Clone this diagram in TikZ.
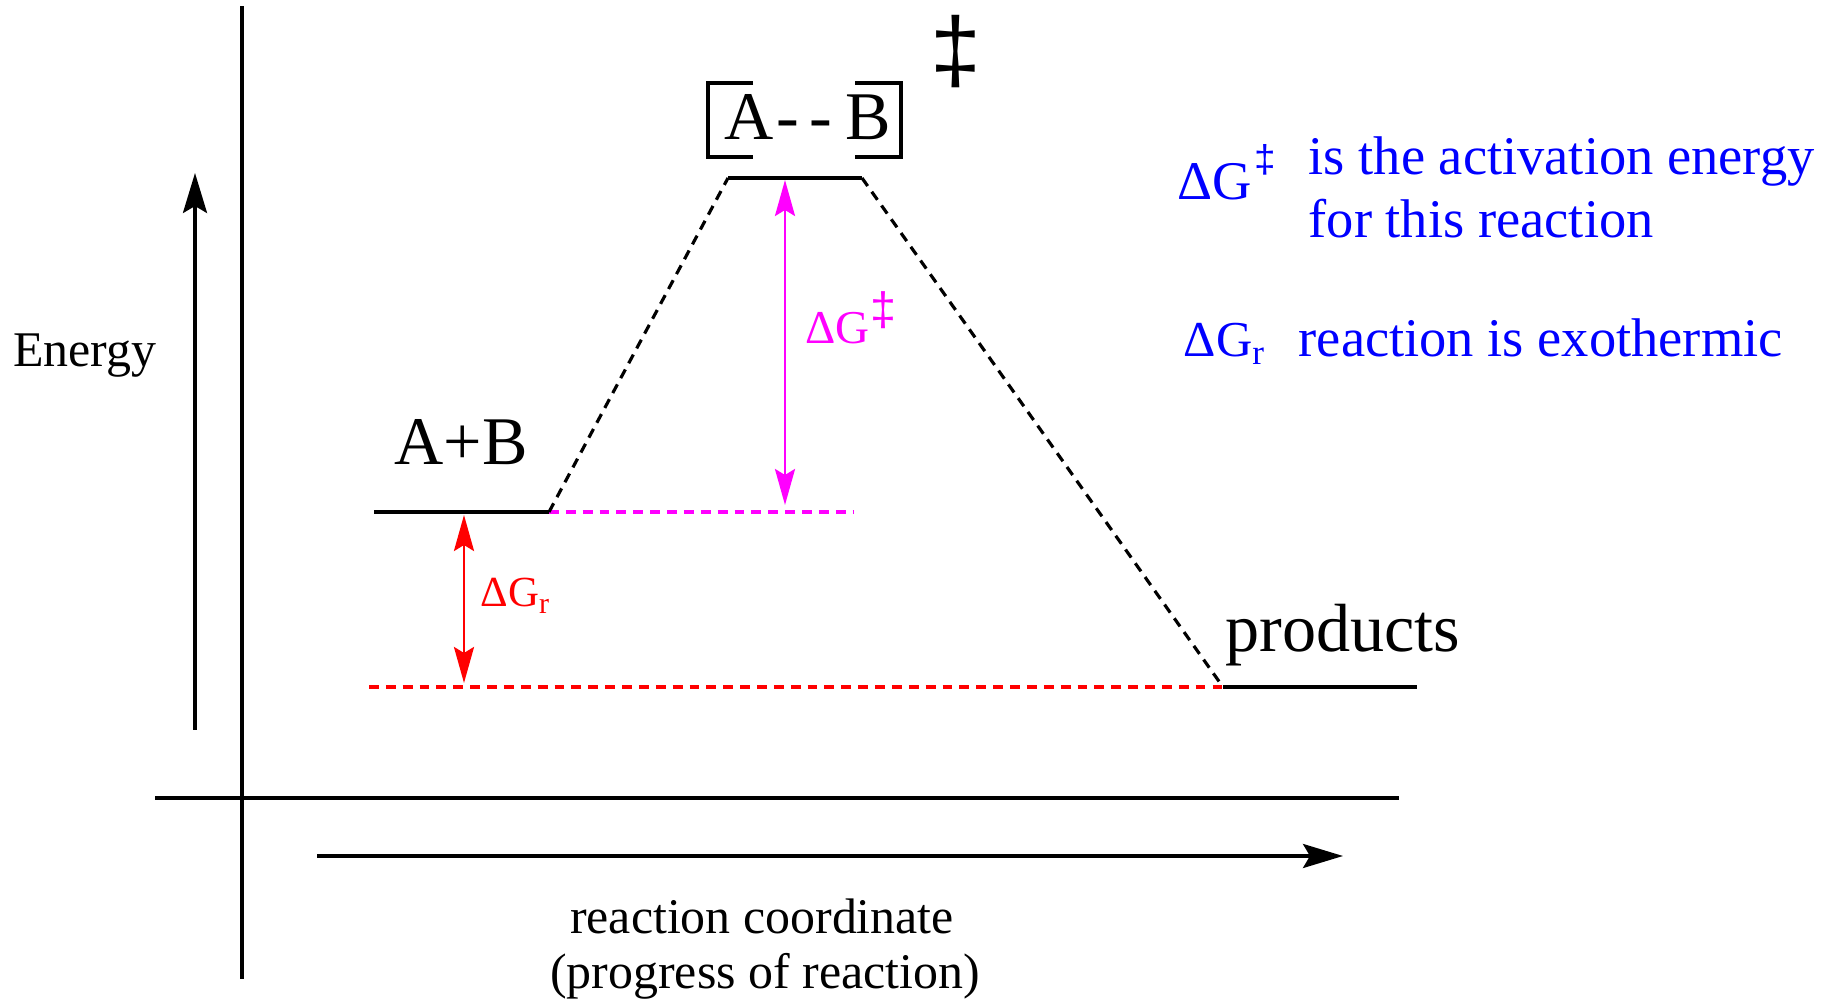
\documentclass[tikz,border=0pt]{standalone}
\usepackage{fontspec}
\setmainfont{Liberation Serif}
\newfontfamily\ddfont{Liberation Sans}
\usetikzlibrary{calc, positioning}
\usetikzlibrary{arrows.meta}
\definecolor{actmag}{RGB}{255,0,255}
\definecolor{rxred}{RGB}{255,0,0}
\definecolor{noteblue}{RGB}{0,0,255}
\newcommand{\ddg}[2]{\raisebox{#2}{\fontsize{#1}{#1}\selectfont\ddfont ‡}}

\tikzset{
  axisline/.style={line width=1pt, >={Stealth[length=4mm, width=2.4mm, inset=0.7mm]}},
  stage/.style={line width=0.9pt},
  slope/.style={line width=0.9pt, dash pattern=on 2.8pt off 2pt},
  span/.style={line width=0.8pt, <->, >={Stealth[length=3.6mm, width=2mm, inset=0.6mm]}},
  tsbox/.style={line width=1.1pt},
  lbl/.style={inner sep=0pt, anchor=base},
  axtext/.style={font=\fontsize{14.2}{17}\selectfont},
  bigtext/.style={font=\fontsize{19.4}{23}\selectfont},
  notetext/.style={font=\fontsize{15.5}{19}\selectfont, text=noteblue},
}

\begin{document}
\begin{tikzpicture}
\useasboundingbox (0,0) rectangle (18.32,10.04);
\def\yr{4.92}
\def\yts{8.26}
\def\yp{3.17}
\coordinate (Ybot) at (2.42,0.25);
\coordinate (Ytop) at (2.42,9.98);
\coordinate (Xl) at (1.55,2.06);
\coordinate (Xr) at (13.99,2.06);
\coordinate (E0) at (1.95,2.74);
\coordinate (E1) at (1.95,8.31);
\coordinate (R0) at (3.17,1.48);
\coordinate (R1) at (13.43,1.48);
\coordinate (RL) at (3.74,\yr);
\coordinate (RR) at (5.49,\yr);
\coordinate (TL) at (7.28,\yts);
\coordinate (TR) at (8.62,\yts);
\coordinate (PL) at (12.23,\yp);
\coordinate (PR) at (14.17,\yp);
\coordinate (Mend) at (8.53,\yr);
\coordinate (Rstart) at (3.69,\yp);
\coordinate (GaTop) at (7.85,8.24);
\coordinate (GaBot) at (7.85,4.99);
\coordinate (GrTop) at (4.64,4.89);
\coordinate (GrBot) at (4.64,3.21);

\draw[axisline] (Ybot) -- (Ytop);
\draw[axisline] (Xl) -- (Xr);
\draw[axisline, ->] (E0) -- (E1);
\draw[axisline, ->] (R0) -- (R1);

\draw[stage] (RL) -- (RR);
\draw[stage] (TL) -- (TR);
\draw[stage] (PL) -- (PR);
\draw[slope, actmag] (RR) -- (Mend);
\draw[slope, rxred] (Rstart) -- (PL);
\draw[slope] (RR) -- (TL);
\draw[slope] (TR) -- (PL);

\draw[span, actmag] (GaTop) -- (GaBot);
\draw[span, rxred] (GrTop) -- (GrBot);

\draw[tsbox] (7.53,9.21) -- (7.08,9.21) -- (7.08,8.47) -- (7.53,8.47);
\draw[tsbox] (8.55,9.21) -- (9.01,9.21) -- (9.01,8.47) -- (8.55,8.47);

\node[lbl, axtext] (energy) at (0.85,6.37) {Energy};
\node[lbl, axtext] (rc) at (7.62,0.71) {reaction coordinate};
\node[lbl, axtext] (rcb) at (7.65,0.15) {(progress of reaction)};
\node[lbl, bigtext] (reac) at (4.61,5.39) {A+B};
\node[lbl, bigtext] (prod) at (13.43,3.52) {products};
\node[lbl, bigtext] (ts) at (8.08,8.64) {A\kern.04em-\kern.15em-\kern.19em B};
\node[inner sep=0pt, font=\fontsize{26}{26}\selectfont\ddfont] (tsmark) at (9.56,9.52) {‡};

\node[lbl, anchor=base west, text=actmag, font=\fontsize{13.4}{16}\selectfont] (ga) at (8.05,6.60) {ΔG\ddg{13.3}{5.4pt}};
\node[lbl, anchor=base west, text=rxred, font=\fontsize{12.2}{15}\selectfont] (gr) at (4.80,3.97) {ΔG\textsubscript{r}};

\node[lbl, anchor=base west, notetext] (nga) at (11.77,8.04) {ΔG\kern.05em\ddg{11}{7.9pt}};
\node[lbl, anchor=base west, notetext] (note1) at (13.08,8.29) {is the activation energy};
\node[lbl, anchor=base west, notetext] (note1b) at (13.08,7.66) {for this reaction};
\node[lbl, anchor=base west, notetext, font=\fontsize{14.3}{17}\selectfont] (ngr) at (11.83,6.47) {ΔG\textsubscript{r}};
\node[lbl, anchor=base west, notetext] (note2) at (12.98,6.47) {reaction is exothermic};
\end{tikzpicture}
\end{document}
